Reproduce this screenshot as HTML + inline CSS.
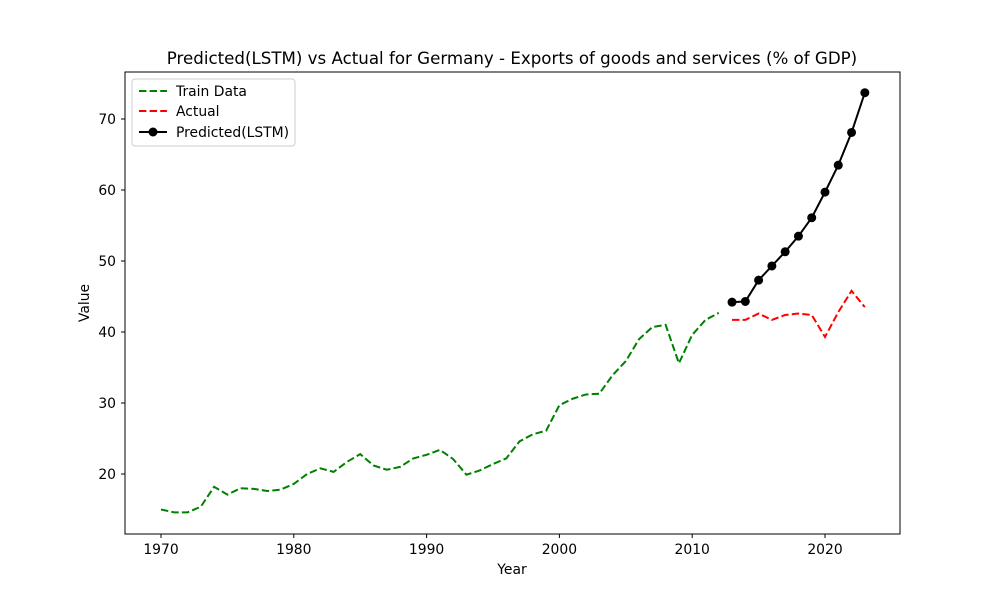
<!DOCTYPE html>
<html><head><meta charset="utf-8"><style>
body{margin:0;background:#fff;font-family:"Liberation Sans","DejaVu Sans",sans-serif;}
svg text{font-family:"DejaVu Sans","Liberation Sans",sans-serif;}
</style></head><body>
<svg id="chart" width="1000" height="600" xmlns="http://www.w3.org/2000/svg">
<rect width="1000" height="600" fill="#fff"/>
<text x="512" y="64" font-size="16.67" text-anchor="middle">Predicted(LSTM) vs Actual for Germany - Exports of goods and services (% of GDP)</text>
<g id="axes"></g>
<g id="marks"></g>
<rect x="125" y="72" width="775" height="462" fill="none" stroke="#000" stroke-width="1"/>
<text x="512" y="574" font-size="13.9" text-anchor="middle">Year</text>
<text x="89" y="303" font-size="13.9" text-anchor="middle" transform="rotate(-90 89 303)">Value</text>
<g>
<rect x="132" y="79" width="163" height="67" rx="3" fill="#fff" stroke="#ccc"/>
<g><line x1="139" y1="91" x2="167" y2="91" stroke="green" stroke-width="2" stroke-dasharray="7.4,3.2"/><text x="176" y="96" font-size="13.9">Train Data</text></g>
<g><line x1="139" y1="111" x2="167" y2="111" stroke="red" stroke-width="2" stroke-dasharray="7.4,3.2"/><text x="176" y="116" font-size="13.9">Actual</text></g>
<g><line x1="139" y1="132" x2="167" y2="132" stroke="#000" stroke-width="2"/><circle cx="153" cy="132" r="4.5"/><text x="176" y="137" font-size="13.9">Predicted(LSTM)</text></g>
</g>
</svg>
<script>
const trainYears=[1970,1971,1972,1973,1974,1975,1976,1977,1978,1979,1980,1981,1982,1983,1984,1985,1986,1987,1988,1989,1990,1991,1992,1993,1994,1995,1996,1997,1998,1999,2000,2001,2002,2003,2004,2005,2006,2007,2008,2009,2010,2011,2012];
const trainValues=[15.0,14.6,14.6,15.4,18.2,17.1,18.0,17.9,17.6,17.8,18.6,20.0,20.8,20.3,21.7,22.8,21.2,20.6,21.0,22.2,22.7,23.4,22.1,19.9,20.5,21.4,22.2,24.6,25.6,26.1,29.7,30.6,31.2,31.3,33.9,35.9,39.0,40.7,41.0,35.6,39.6,41.7,42.7];
const testYears=[2013,2014,2015,2016,2017,2018,2019,2020,2021,2022,2023];
const actualValues=[41.7,41.7,42.6,41.7,42.4,42.6,42.4,39.3,42.8,45.8,43.5];
const predictedValues=[44.2,44.3,47.3,49.3,51.3,53.5,56.1,59.7,63.5,68.1,73.7];
const xTicks=[1970,1980,1990,2000,2010,2020];
const yTicks=[20,30,40,50,60,70];
const NS="http://www.w3.org/2000/svg";
const xs=v=>161+(v-1970)*13.28;
const ys=v=>474-(v-20)*7.1;
const axes=document.getElementById('axes'),marks=document.getElementById('marks');
function mk(tag,attrs,parent){const e=document.createElementNS(NS,tag);for(const k in attrs)e.setAttribute(k,attrs[k]);parent.appendChild(e);return e;}
xTicks.forEach(t=>{const x=xs(t);
const l=mk('line',{x1:x,y1:534,x2:x,y2:538,stroke:'#000'},axes);


const tx=mk('text',{x:x,y:554,'font-size':13.9,'text-anchor':'middle'},axes);tx.textContent=t;

});
yTicks.forEach(t=>{const y=ys(t);
const l=mk('line',{x1:121,y1:y,x2:125,y2:y,stroke:'#000'},axes);


const tx=mk('text',{x:116,y:y+5,'font-size':13.9,'text-anchor':'end'},axes);tx.textContent=t;

});
function pts(xa,va){return xa.map((x,i)=>xs(x)+','+ys(va[i])).join(' ');}
const tr=mk('polyline',{points:pts(trainYears,trainValues),fill:'none',stroke:'green','stroke-width':2,'stroke-dasharray':'7.4,3.2'},marks);


const ac=mk('polyline',{points:pts(testYears,actualValues),fill:'none',stroke:'red','stroke-width':2,'stroke-dasharray':'7.4,3.2'},marks);


const pr=mk('polyline',{points:pts(testYears,predictedValues),fill:'none',stroke:'#000','stroke-width':2},marks);


testYears.forEach((y,i)=>{const c=mk('circle',{cx:xs(y),cy:ys(predictedValues[i]),r:4.5,fill:'#000'},marks);

});
</script>
</body></html>
